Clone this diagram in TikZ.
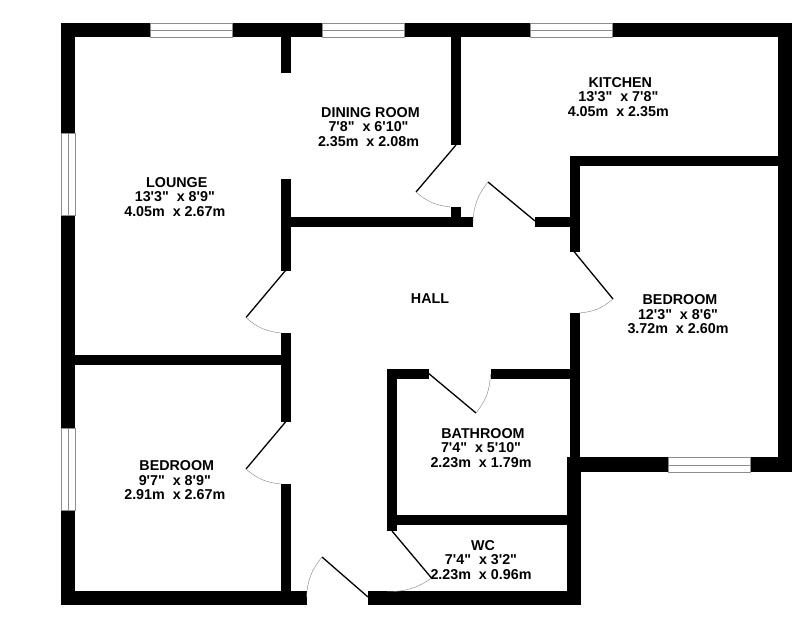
\documentclass[tikz,border=0pt]{standalone}
\usepackage{fontspec}
\newfontfamily\planfont{Liberation Sans}[Scale=1]
\begin{document}
\begin{tikzpicture}[x=1pt,y=-1pt]
        \tikzstyle{wall}=[fill=black]
        \tikzstyle{window}=[draw=black!45,fill=white,line width=0.8pt]
        \tikzstyle{leaf}=[draw=black,line width=1.3pt]
        \tikzstyle{swing}=[draw=black!50,line width=0.4pt]
        \tikzstyle{room}=[align=center,inner sep=0pt,font=\planfont\bfseries\fontsize{14.3}{14.4}\selectfont]

        \useasboundingbox (0,0) rectangle (812,643);

        % outer walls
        \fill[wall] (61,23) rectangle (792,37);
        \fill[wall] (61,23) rectangle (75,605);
        \fill[wall] (778,23) rectangle (792,472);
        \fill[wall] (567,457) rectangle (792,472);
        \fill[wall] (567,457) rectangle (581,605);
        \fill[wall] (61,591) rectangle (306.5,605);
        \fill[wall] (368,591) rectangle (581,605);

        % inner walls
        \fill[wall] (281,37) rectangle (291,73);
        \fill[wall] (281,179) rectangle (291,270.5);
        \fill[wall] (281,333) rectangle (291,422);
        \fill[wall] (281,484) rectangle (291,591);
        \fill[wall] (75,355) rectangle (281,365);
        \fill[wall] (291,217) rectangle (473,227);
        \fill[wall] (451,37) rectangle (461,145);
        \fill[wall] (451,207) rectangle (461,217);
        \fill[wall] (535,217) rectangle (570,227);
        \fill[wall] (570,156) rectangle (580,251.5);
        \fill[wall] (570,156) rectangle (778,166);
        \fill[wall] (570,313) rectangle (580,457);
        \fill[wall] (387,369) rectangle (428.7,379);
        \fill[wall] (490.5,369) rectangle (570,379);
        \fill[wall] (387,369) rectangle (397,531);
        \fill[wall] (397,515) rectangle (567,525);

        % windows
        \draw[window] (150,23) rectangle (232,37) (150,30) -- (232,30);
        \draw[window] (322,23) rectangle (404,37) (322,30) -- (404,30);
        \draw[window] (530,23) rectangle (612,37) (530,30) -- (612,30);
        \draw[window] (61,133) rectangle (75,215) (68,133) -- (68,215);
        \draw[window] (61,428) rectangle (75,510) (68,428) -- (68,510);
        \draw[window] (668,457.5) rectangle (750,472) (668,465) -- (750,465);

        % doors
        \coordinate (loungeh) at (285.5,270.5);
        \coordinate (lounget) at (246,317.5);
        \coordinate (loungee) at (281,333);
        \coordinate (bedah) at (285.5,422);
        \coordinate (bedat) at (246,469);
        \coordinate (bedae) at (281,484);
        \coordinate (diningh) at (456,145);
        \coordinate (diningt) at (416,192);
        \coordinate (dininge) at (451,207);
        \coordinate (kitchenh) at (535,221);
        \coordinate (kitchent) at (488,182);
        \coordinate (kitchene) at (473,222);
        \coordinate (bedbh) at (574,251.5);
        \coordinate (bedbt) at (613,299);
        \coordinate (bedbe) at (579,313);
        \coordinate (bathh) at (428.7,373.5);
        \coordinate (batht) at (476,413);
        \coordinate (bathe) at (490.5,374);
        \coordinate (fronth) at (368,597);
        \coordinate (frontt) at (322,557);
        \coordinate (fronte) at (306.5,597);
        \coordinate (wch) at (392,531);
        \coordinate (wct) at (431.5,578);
        \coordinate (wce) at (387,591.5);

        \draw[leaf] (loungeh) -- (lounget);
        \draw[leaf] (bedah) -- (bedat);
        \draw[leaf] (diningh) -- (diningt);
        \draw[leaf] (kitchenh) -- (kitchent);
        \draw[leaf] (bedbh) -- (bedbt);
        \draw[leaf] (bathh) -- (batht);
        \draw[leaf] (fronth) -- (frontt);
        \draw[leaf] (wch) -- (wct);

        \draw[swing] (lounget) to[bend right=18] (loungee);
        \draw[swing] (bedat) to[bend right=18] (bedae);
        \draw[swing] (diningt) to[bend right=18] (dininge);
        \draw[swing] (kitchent) to[bend right=18] (kitchene);
        \draw[swing] (bedbt) to[bend left=18] (bedbe);
        \draw[swing] (batht) to[bend right=18] (bathe);
        \draw[swing] (frontt) to[bend right=18] (fronte);
        \draw[swing] (wct) to[bend left=18] (wce);

        % room labels
        \node[room] (lounge) at (174.8,196.7) {~LOUNGE\\13'3"~~x 8'9"\\4.05m~~x 2.67m};
        \node[room] (dining) at (368.5,127) {~DINING ROOM\\7'8"~~x 6'10"\\2.35m~~x 2.08m};
        \node[room] (kitchen) at (618.3,96.7) {~KITCHEN\\13'3"~~x 7'8"\\4.05m~~x 2.35m};
        \node[room] (hall) at (430,299) {HALL};
        \node[room] (bedright) at (678,314.3) {~BEDROOM\\12'3"~~x 8'6"\\3.72m~~x 2.60m};
        \node[room] (bathroom) at (481,448) {~BATHROOM\\7'4"~~x 5'10"\\2.23m~~x 1.79m};
        \node[room] (bedleft) at (174.8,480.2) {~BEDROOM\\9'7"~~x 8'9"\\2.91m~~x 2.67m};
        \node[room] (wc) at (481,560) {~WC\\7'4"~~x 3'2"\\2.23m~~x 0.96m};
\end{tikzpicture}
\end{document}
